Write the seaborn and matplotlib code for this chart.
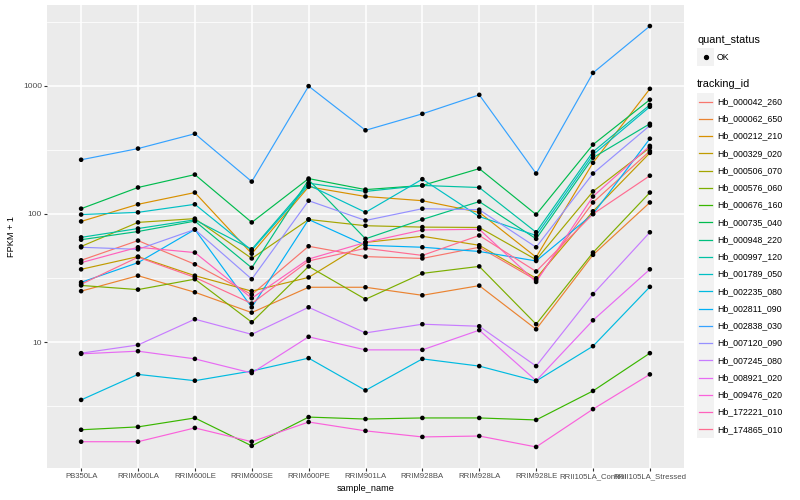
import numpy as np
import pandas as pd
import matplotlib
matplotlib.use("Agg")
import matplotlib.pyplot as plt
import seaborn as sns
from matplotlib.patches import Rectangle
from matplotlib.lines import Line2D
from matplotlib.ticker import FixedLocator, FixedFormatter, NullFormatter

# ---------------- data ----------------
samples = ["PB350LA", "RRIM600LA", "RRIM600LE", "RRIM600SE", "RRIM600PE",
           "RRIM901LA", "RRIM928BA", "RRIM928LA", "RRIM928LE",
           "RRII105LA_Control", "RRII105LA_Stressed"]

tracking_ids = ["Hb_000042_260", "Hb_000062_650", "Hb_000212_210", "Hb_000329_020",
                "Hb_000506_070", "Hb_000576_060", "Hb_000676_160", "Hb_000735_040",
                "Hb_000948_220", "Hb_000997_120", "Hb_001789_050", "Hb_002235_080",
                "Hb_002811_090", "Hb_002838_030", "Hb_007120_090", "Hb_007245_080",
                "Hb_008921_020", "Hb_009476_020", "Hb_172221_010", "Hb_174865_010"]

# FPKM + 1 per sample
hb_000042_260 = [43.5, 62, 40.5, 23.5, 56, 46.5, 45, 55, 30.5, 123, 310]
hb_000062_650 = [25, 33, 24.5, 17, 26.8, 26.8, 23.2, 27.6, 12.6, 48, 123]
hb_000212_210 = [87.5, 119, 147, 49, 163, 137, 127, 103, 46, 251, 948]
hb_000329_020 = [37, 46.5, 33, 25, 32, 60, 67, 57, 31.5, 105, 300]
hb_000506_070 = [55.8, 86, 92, 45, 90.6, 81, 79, 78.5, 44, 150, 330]
hb_000576_060 = [27.7, 25.7, 31, 14.3, 39, 21.6, 34.4, 39, 13.8, 50, 147]
hb_000676_160 = [2.07, 2.18, 2.56, 1.55, 2.6, 2.51, 2.56, 2.56, 2.47, 4.16, 8.2]
hb_000735_040 = [110, 161, 203, 86, 189, 155, 167, 226, 99, 348, 780]
hb_000948_220 = [63, 73, 88, 38, 185, 64, 90.6, 125, 64, 275, 506]
hb_000997_120 = [65.7, 77, 90, 53, 174, 150, 167, 161, 72, 306, 711]
hb_001789_050 = [99, 103, 119, 52, 168, 103, 187, 95.5, 68, 290, 687]
hb_002235_080 = [3.54, 5.6, 5.0, 5.95, 7.5, 4.2, 7.4, 6.5, 4.97, 9.3, 27]
hb_002811_090 = [29.3, 41.7, 75.7, 18.7, 90.6, 57, 55, 51, 43, 100, 387]
hb_002838_030 = [265, 324, 423, 179, 995, 450, 605, 851, 207, 1263, 2930]
hb_007120_090 = [55, 53, 75.7, 31, 127, 89, 110, 108, 55, 207, 490]
hb_007245_080 = [8.2, 9.5, 15.1, 11.5, 18.7, 11.8, 13.8, 13.3, 6.5, 23.7, 72]
hb_008921_020 = [8.1, 8.5, 7.4, 5.74, 11, 8.7, 8.7, 12.4, 5.0, 14.8, 37]
hb_009476_020 = [1.67, 1.67, 2.14, 1.67, 2.38, 2.03, 1.82, 1.85, 1.52, 3.0, 5.6]
hb_172221_010 = [41.7, 55, 50, 22, 44.5, 60, 75, 76, 29.5, 137, 340]
hb_174865_010 = [28.3, 46, 32, 20, 43, 54, 47.5, 68, 35.6, 100, 199]

series_values = [hb_000042_260, hb_000062_650, hb_000212_210, hb_000329_020,
                 hb_000506_070, hb_000576_060, hb_000676_160, hb_000735_040,
                 hb_000948_220, hb_000997_120, hb_001789_050, hb_002235_080,
                 hb_002811_090, hb_002838_030, hb_007120_090, hb_007245_080,
                 hb_008921_020, hb_009476_020, hb_172221_010, hb_174865_010]

quant_status = ["OK"]

rows = []
for tid, vals in zip(tracking_ids, series_values):
    for s, v in zip(samples, vals):
        rows.append({"tracking_id": tid, "sample_name": s, "value": v, "quant_status": "OK"})
df = pd.DataFrame(rows)
df["sample_name"] = pd.Categorical(df["sample_name"], categories=samples, ordered=True)
df["xpos"] = df["sample_name"].cat.codes

# ggplot2 default hue palette (20 levels)
palette = ["#F8766D", "#EA8331", "#D89000", "#C09B00", "#A3A500", "#7CAE00", "#39B600",
           "#00BB4E", "#00BF7D", "#00C1A3", "#00BFC4", "#00BAE0", "#00B0F6", "#35A2FF",
           "#9590FF", "#C77CFF", "#E76BF3", "#FA62DB", "#FF62BC", "#FF6C91"]
pal = dict(zip(tracking_ids, palette))

# ---------------- figure ----------------
FAM = ["Liberation Sans", "DejaVu Sans"]
plt.rcParams["font.family"] = FAM
W, H = 800, 500
fig = plt.figure(figsize=(W / 100, H / 100), dpi=100)
fig.patch.set_facecolor("white")
ax = fig.add_axes([47 / W, 32 / H, 637 / W, 463 / H])

sns.lineplot(data=df, x="xpos", y="value", hue="tracking_id", palette=pal,
             hue_order=tracking_ids, units="tracking_id", estimator=None,
             sort=True, linewidth=0.85, legend=False, ax=ax, zorder=3)
sns.scatterplot(data=df, x="xpos", y="value", color="black", s=11,
                edgecolor="none", legend=False, ax=ax, zorder=4)

ax.set_yscale("log")
lo, hi = np.log10(df["value"].min()), np.log10(df["value"].max())
pad = 0.05 * (hi - lo)
ax.set_ylim(10 ** (lo - pad), 10 ** (hi + pad))
ax.set_xlim(-0.6, len(samples) - 1 + 0.6)

ax.set_facecolor("#EBEBEB")
for sp in ax.spines.values():
    sp.set_visible(False)

ax.xaxis.set_major_locator(FixedLocator(range(len(samples))))
ax.xaxis.set_major_formatter(FixedFormatter(samples))
ax.xaxis.set_minor_locator(FixedLocator([]))
ax.yaxis.set_major_locator(FixedLocator([10, 100, 1000]))
ax.yaxis.set_major_formatter(FixedFormatter(["10", "100", "1000"]))
ax.yaxis.set_minor_locator(FixedLocator([10 ** 0.5, 10 ** 1.5, 10 ** 2.5, 10 ** 3.5]))
ax.yaxis.set_minor_formatter(NullFormatter())

ax.grid(which="major", color="white", linewidth=1.1, zorder=0)
ax.grid(which="minor", axis="y", color="white", linewidth=0.55, zorder=0)
ax.set_axisbelow(True)

ax.tick_params(axis="both", which="major", length=2.0, width=0.8, color="#333333",
               labelcolor="#4D4D4D", pad=1.6)
ax.tick_params(axis="x", which="major", labelsize=5.6)
ax.tick_params(axis="y", which="major", labelsize=6.0)
ax.tick_params(axis="y", which="minor", length=0)

ax.set_xlabel("sample_name", fontsize=6.6, color="black", labelpad=3)
ax.set_ylabel("FPKM + 1", fontsize=6.6, color="black", labelpad=5)

# ---------------- legends (ggplot style) ----------------
def fx(px):
    return px / W

def fy(py):
    return 1 - py / H

key_x0, key_w, key_h = 697, 17.3, 17.3
text_x = 717

fig.text(fx(697), fy(40), "quant_status", fontsize=7.8, va="center", ha="left")
for i, qs in enumerate(quant_status):
    cy = 57 + i * key_h
    fig.add_artist(Rectangle((fx(key_x0), fy(cy + key_h / 2)), key_w / W, key_h / H,
                             transform=fig.transFigure, facecolor="#F2F2F2",
                             edgecolor="none"))
    fig.add_artist(Line2D([fx(key_x0 + key_w / 2)], [fy(cy)], marker="o",
                          markersize=2.8, color="black", linestyle="none",
                          transform=fig.transFigure))
    fig.text(fx(text_x), fy(cy), qs, fontsize=6.3, va="center", ha="left")

fig.text(fx(697), fy(84), "tracking_id", fontsize=7.8, va="center", ha="left")
for i, tid in enumerate(tracking_ids):
    cy = 101.5 + i * 17.26
    fig.add_artist(Rectangle((fx(key_x0), fy(cy + key_h / 2)), key_w / W, key_h / H,
                             transform=fig.transFigure, facecolor="#F2F2F2",
                             edgecolor="none"))
    fig.add_artist(Line2D([fx(key_x0 + 2), fx(key_x0 + key_w - 2)], [fy(cy), fy(cy)],
                          color=pal[tid], linewidth=0.9, transform=fig.transFigure))
    fig.text(fx(text_x), fy(cy), tid, fontsize=6.3, va="center", ha="left")

fig.savefig("out.png", dpi=100, facecolor="white")
